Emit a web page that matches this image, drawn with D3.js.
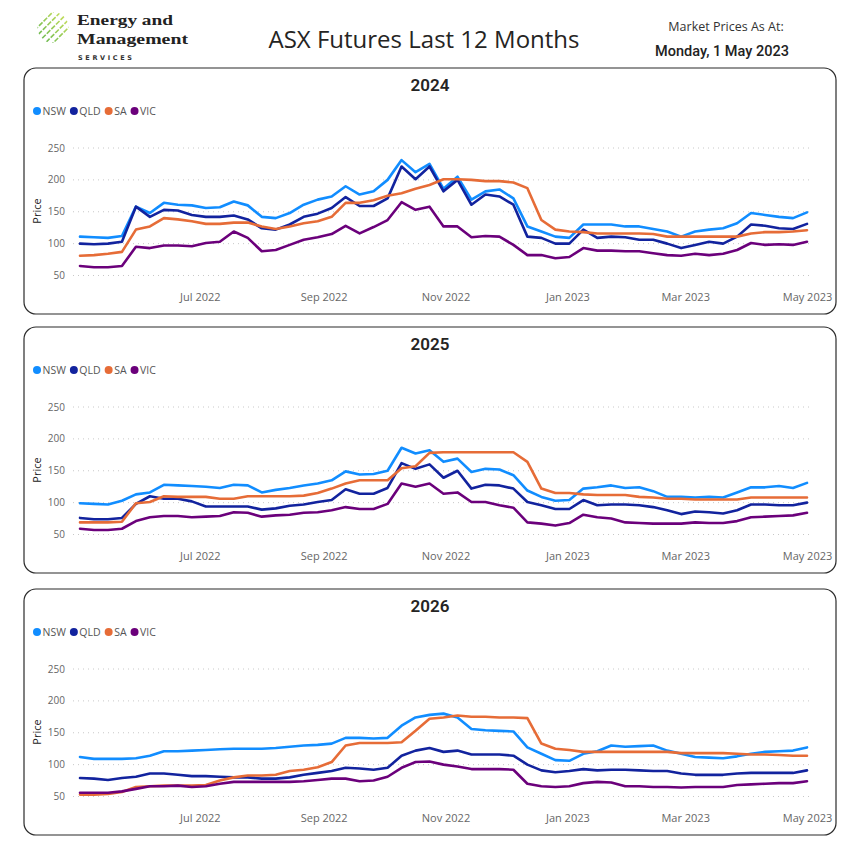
<!DOCTYPE html>
<html>
<head>
<meta charset="utf-8">
<script src="https://cdn.jsdelivr.net/npm/d3@7/dist/d3.min.js"></script>
<style>
  html,body{margin:0;padding:0;background:#fff;}
  svg{display:block;}
</style>
</head>
<body>
<svg id="chart" width="860" height="850"></svg>
<script>
// ---------------- DATA ----------------
const dates = ["2022-05-02","2022-05-09","2022-05-16","2022-05-23","2022-05-30",
"2022-06-06","2022-06-13","2022-06-20","2022-06-27",
"2022-07-04","2022-07-11","2022-07-18","2022-07-25",
"2022-08-01","2022-08-08","2022-08-15","2022-08-22","2022-08-29",
"2022-09-05","2022-09-12","2022-09-19","2022-09-26",
"2022-10-03","2022-10-10","2022-10-17","2022-10-24","2022-10-31",
"2022-11-07","2022-11-14","2022-11-21","2022-11-28",
"2022-12-05","2022-12-12","2022-12-19","2022-12-26",
"2023-01-02","2023-01-09","2023-01-16","2023-01-23","2023-01-30",
"2023-02-06","2023-02-13","2023-02-20","2023-02-27",
"2023-03-06","2023-03-13","2023-03-20","2023-03-27",
"2023-04-03","2023-04-10","2023-04-17","2023-04-24","2023-05-01"];

const regions = ["NSW","QLD","SA","VIC"];
const panelTitles = ["2024","2025","2026"];
const yTicks = [50,100,150,200,250];
const xTickDates = ["2022-07-01","2022-09-01","2022-11-01","2023-01-01","2023-03-01","2023-05-01"];

// 2024
const nsw2024 = [111,110,109,112,158,148,164,161,160,156,157,166,160,142,140,148,161,169,174,190,177,182,200,231,212,225,
                 186,205,169,182,185,171,127,119,111,109,130,130,130,127,127,123,119,111,119,122,124,132,148,145,142,140,149];
const qld2024 = [100,99,100,103,158,142,153,152,145,142,142,144,138,124,122,130,142,147,156,173,159,159,171,221,201,221,
                 182,200,161,177,174,161,111,109,100,100,122,109,111,110,106,106,100,93,98,103,100,111,130,128,124,123,131];
const sa2024  = [81,82,84,87,122,127,140,138,135,131,131,133,133,127,123,127,132,135,142,164,164,168,175,179,186,192,
                 201,201,200,198,198,196,187,137,122,119,118,116,116,116,116,115,111,111,111,111,111,111,116,118,118,119,121];
const vic2024 = [65,63,63,65,95,93,97,97,96,101,103,119,109,88,90,98,106,110,115,128,116,126,137,165,153,158,
                 127,127,110,112,111,98,82,82,77,79,93,89,89,88,88,85,82,81,84,82,84,90,101,98,99,98,103];
// 2025
const nsw2025 = [99,98,97,103,113,116,128,127,126,125,123,128,127,116,120,123,127,130,135,149,144,145,150,186,177,182,
                 164,169,148,153,152,143,119,109,103,104,122,124,127,123,124,118,109,109,108,109,108,116,124,124,126,123,131];
const qld2025 = [76,74,74,76,98,110,106,106,102,94,94,94,94,89,91,95,97,101,104,121,114,114,123,162,153,160,
                 139,150,122,128,127,122,101,96,90,90,104,96,97,97,96,93,88,82,86,85,83,88,97,97,96,96,100];
const sa2025  = [69,69,69,70,99,101,110,109,109,109,106,106,110,110,110,110,111,115,122,130,135,135,135,154,157,178,
                 179,179,179,179,179,179,164,122,115,115,113,112,112,112,109,108,106,106,105,105,105,105,108,108,108,108,108];
const vic2025 = [59,57,57,59,71,77,79,79,77,78,79,85,84,78,80,81,84,85,88,93,90,90,98,130,125,130,
                 114,116,101,101,96,92,69,67,64,68,81,77,75,69,68,67,67,67,69,68,68,71,77,78,79,80,84];
// 2026
const nsw2026 = [112,109,109,109,110,114,121,121,122,123,124,125,125,125,126,128,130,131,133,142,142,141,142,161,174,178,
                 180,174,156,154,153,152,127,117,107,106,117,121,130,128,129,130,122,117,112,111,110,113,117,120,121,122,127];
const qld2026 = [79,78,76,79,81,86,86,84,82,82,81,80,80,78,78,80,84,87,90,95,94,92,95,114,122,126,
                 120,122,116,116,116,114,100,91,88,90,93,91,92,92,91,90,90,86,84,84,84,86,87,87,87,87,91];
const sa2026  = [53,53,54,57,65,66,67,67,67,68,75,80,83,83,84,90,92,96,104,130,134,134,134,135,153,172,
                 174,177,175,175,174,174,173,133,125,123,120,120,120,120,120,120,120,118,118,118,118,117,116,116,115,114,114];
const vic2026 = [56,56,56,58,62,66,66,67,65,66,70,73,73,73,73,73,74,76,78,78,74,75,81,95,104,105,
                 100,97,93,93,93,92,70,66,65,66,71,73,72,66,66,65,65,64,65,65,65,68,69,70,71,71,74];

const panelSeries = [
  [nsw2024, qld2024, sa2024, vic2024],
  [nsw2025, qld2025, sa2025, vic2025],
  [nsw2026, qld2026, sa2026, vic2026]
];

// ---------------- STYLE ----------------
const colors = {NSW:"#118DFF", QLD:"#12239E", SA:"#E66C37", VIC:"#6B007B"};
const panelTops = [68, 327, 589];
const panelH = 246;
const uiFont = "'Segoe UI','Open Sans',sans-serif";
const dinFont = "Roboto,'DejaVu Sans',sans-serif";

const parse = d3.timeParse("%Y-%m-%d");
const dateObjs = dates.map(parse);
const svg = d3.select("#chart");

// ---------------- HEADER / LOGO ----------------
const defs = svg.append("defs");
const grad = defs.append("linearGradient").attr("id","logoGrad")
  .attr("x1","0%").attr("y1","100%").attr("x2","100%").attr("y2","0%");
grad.append("stop").attr("offset","0%").attr("stop-color","#4fae4f");
grad.append("stop").attr("offset","100%").attr("stop-color","#e3ea62");
defs.append("clipPath").attr("id","logoClip")
  .append("circle").attr("cx",53).attr("cy",27.5).attr("r",15.5);

const logo = svg.append("g").attr("clip-path","url(#logoClip)");
for (let i = -5; i <= 5; i++) {
  const off = i * 3.9;
  logo.append("line")
    .attr("x1", 53 - 20 + off).attr("y1", 27.5 + 20 + off)
    .attr("x2", 53 + 20 + off).attr("y2", 27.5 - 20 + off)
    .attr("stroke","url(#logoGrad)").attr("stroke-width",1.6)
    .attr("stroke-dasharray","5,1.5");
}
svg.append("text").attr("x",77).attr("y",25)
  .attr("font-family","'Liberation Serif','DejaVu Serif',serif").attr("font-weight","bold")
  .attr("font-size",15.5).attr("fill","#222")
  .attr("textLength",96).attr("lengthAdjust","spacingAndGlyphs").text("Energy and");
svg.append("text").attr("x",77).attr("y",43.5)
  .attr("font-family","'Liberation Serif','DejaVu Serif',serif").attr("font-weight","bold")
  .attr("font-size",15.5).attr("fill","#222")
  .attr("textLength",111).attr("lengthAdjust","spacingAndGlyphs").text("Management");
svg.append("text").attr("x",78).attr("y",60)
  .attr("font-family","'DejaVu Sans',sans-serif").attr("font-weight","bold")
  .attr("font-size",6.5).attr("fill","#333").attr("letter-spacing",4)
  .attr("textLength",58).text("SERVICES");

svg.append("text").attr("x",424).attr("y",48).attr("text-anchor","middle")
  .attr("font-family",uiFont).attr("font-size",24).attr("fill","#252423")
  .text("ASX Futures Last 12 Months");
svg.append("text").attr("x",726).attr("y",31).attr("text-anchor","middle")
  .attr("font-family",uiFont).attr("font-size",12.5).attr("fill","#333")
  .text("Market Prices As At:");
svg.append("text").attr("x",722).attr("y",56).attr("text-anchor","middle")
  .attr("font-family",dinFont).attr("font-weight",500).attr("font-size",14.5).attr("fill","#222")
  .text("Monday, 1 May 2023");

// ---------------- PANELS ----------------
const x = d3.scaleTime().domain([dateObjs[0], dateObjs[dateObjs.length-1]]).range([80, 807]);
const y = d3.scaleLinear().domain([50, 250]).range([207.5, 80]);

panelSeries.forEach((seriesSet, pi) => {
  const g = svg.append("g").attr("transform", `translate(0,${panelTops[pi]})`);
  g.append("rect").attr("x",24).attr("y",0).attr("width",812).attr("height",panelH)
    .attr("rx",12).attr("ry",12).attr("fill","#fff").attr("stroke","#2b2b2b").attr("stroke-width",1.2);

  g.append("text").attr("x",430).attr("y",23).attr("text-anchor","middle")
    .attr("font-family",dinFont).attr("font-weight",600).attr("font-size",17).attr("fill","#252423")
    .text(panelTitles[pi]);

  // legend
  let lx = 37;
  regions.forEach(r => {
    g.append("circle").attr("cx",lx).attr("cy",43).attr("r",4).attr("fill",colors[r]);
    const t = g.append("text").attr("x",lx+5.5).attr("y",43).attr("dy","0.35em")
      .attr("font-family",uiFont).attr("font-size",10.5).attr("fill","#555").text(r);
    lx = lx + 5.5 + t.node().getComputedTextLength() + 8;
  });

  // grid
  g.selectAll(".grid").data(yTicks).enter().append("line")
    .attr("x1",73).attr("x2",813).attr("y1",d=>y(d)).attr("y2",d=>y(d))
    .attr("stroke","#c8c8c8").attr("stroke-width",1).attr("stroke-dasharray","1,4");
  g.selectAll(".ytl").data(yTicks).enter().append("text")
    .attr("x",65).attr("y",d=>y(d)).attr("dy","0.35em").attr("text-anchor","end")
    .attr("font-family",uiFont).attr("font-size",10).attr("fill","#666").text(d=>d);

  g.append("text").attr("transform","translate(41,143) rotate(-90)").attr("text-anchor","middle")
    .attr("font-family",uiFont).attr("font-size",11).attr("fill","#222").text("Price");

  // x axis
  const ax = g.append("g").attr("transform","translate(0,222)")
    .call(d3.axisBottom(x).tickValues(xTickDates.map(parse))
      .tickFormat(d3.timeFormat("%b %Y")).tickSize(0).tickPadding(3));
  ax.select(".domain").remove();
  ax.selectAll("text").attr("font-family",uiFont).attr("font-size",11).attr("fill","#666");

  // lines
  const line = d3.line().x((d,i)=>x(dateObjs[i])).y(d=>y(d));
  seriesSet.forEach((vals, si) => {
    g.append("path").attr("d", line(vals)).attr("fill","none")
      .attr("stroke", colors[regions[si]]).attr("stroke-width",2.6)
      .attr("stroke-linejoin","round").attr("stroke-linecap","round");
  });
});
</script>
</body>
</html>
